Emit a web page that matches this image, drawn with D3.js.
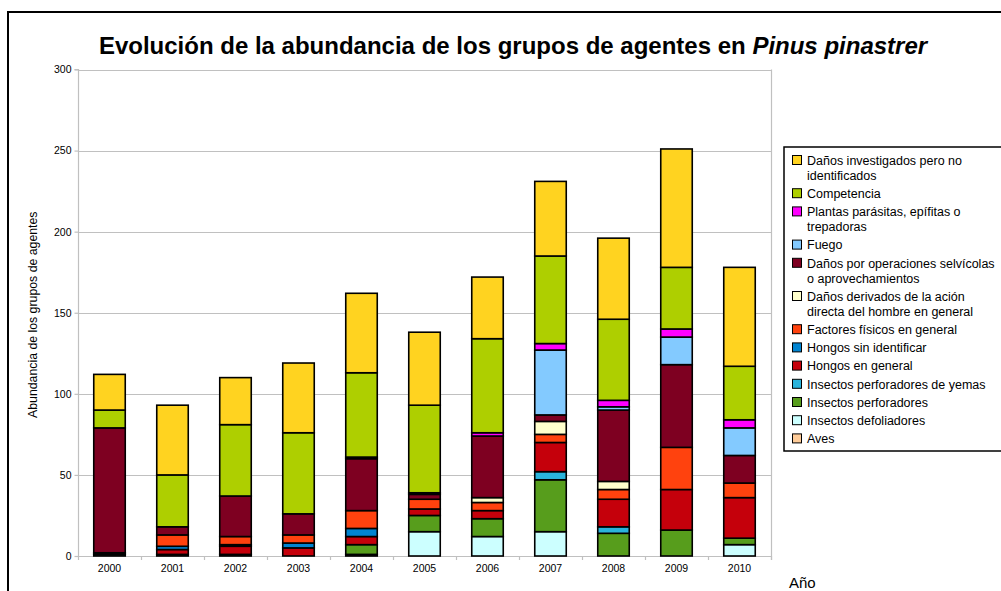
<!DOCTYPE html>
<html lang="es">
<head>
<meta charset="UTF-8">
<title>Evolución de la abundancia</title>
<style>
  body { margin: 0; background: #fff; overflow: hidden; }
  svg { display: block; font-family: "Liberation Sans", Arial, sans-serif; }
</style>
</head>
<body>
<svg width="1001" height="591"></svg>
<script src="https://cdn.jsdelivr.net/npm/d3@7"></script>
<script>
// years on the x axis
const years = ["2000", "2001", "2002", "2003", "2004", "2005", "2006", "2007", "2008", "2009", "2010"];

// series, bottom of the stack first
const seriesNames = [
  "Aves",
  "Insectos defoliadores",
  "Insectos perforadores",
  "Insectos perforadores de yemas",
  "Hongos en general",
  "Hongos sin identificar",
  "Factores físicos en general",
  "Daños derivados de la ación directa del hombre en general",
  "Daños por operaciones selvícolas o aprovechamientos",
  "Fuego",
  "Plantas parásitas, epífitas o trepadoras",
  "Competencia",
  "Daños investigados pero no identificados"
];

const aves          = [1, 1, 1, 0, 1, 0, 0, 0, 0, 0, 0];
const defoliadores  = [0, 0, 0, 0, 0, 15, 12, 15, 0, 0, 7];
const perforadores  = [0, 0, 0, 0, 6, 10, 11, 32, 14, 16, 4];
const yemas         = [0, 0, 0, 0, 0, 0, 0, 5, 4, 0, 0];
const hongos        = [1, 3, 5, 5, 5, 4, 5, 18, 17, 25, 25];
const hongosSinId   = [0, 2, 1, 3, 5, 0, 0, 0, 0, 0, 0];
const fisicos       = [0, 7, 5, 5, 11, 6, 5, 5, 6, 26, 9];
const hombre        = [0, 0, 0, 0, 0, 0, 3, 8, 5, 0, 0];
const selvicolas    = [77, 5, 25, 13, 32, 3, 38, 4, 44, 51, 17];
const fuego         = [0, 0, 0, 0, 1, 1, 0, 40, 2, 17, 17];
const plantas       = [0, 0, 0, 0, 0, 0, 2, 4, 4, 5, 5];
const competencia   = [11, 32, 44, 50, 52, 54, 58, 54, 50, 38, 33];
const noIdentif     = [22, 43, 29, 43, 49, 45, 38, 46, 50, 73, 61];

const seriesValues = [aves, defoliadores, perforadores, yemas, hongos, hongosSinId,
  fisicos, hombre, selvicolas, fuego, plantas, competencia, noIdentif];

const colors = ["#ffcc99", "#ccffff", "#579d1c", "#2ab4dc", "#c5000b", "#0084d1",
  "#ff420e", "#ffffcc", "#7e0021", "#83caff", "#ff00ff", "#aecf00", "#ffd320"];

// legend text, top item first, already wrapped like the original
const legendLines = [
  ["Daños investigados pero no", "identificados"],
  ["Competencia"],
  ["Plantas parásitas, epífitas o", "trepadoras"],
  ["Fuego"],
  ["Daños por operaciones selvícolas", "o aprovechamientos"],
  ["Daños derivados de la ación", "directa del hombre en general"],
  ["Factores físicos en general"],
  ["Hongos sin identificar"],
  ["Hongos en general"],
  ["Insectos perforadores de yemas"],
  ["Insectos perforadores"],
  ["Insectos defoliadores"],
  ["Aves"]
];

const yTicks = [0, 50, 100, 150, 200, 250, 300];

const svg = d3.select("svg");
const margin = { left: 78, top: 69.5, right: 771, bottom: 556 };

// outer frame
svg.append("rect")
  .attr("x", 8).attr("y", 12)
  .attr("width", 1010).attr("height", 600)
  .attr("fill", "none").attr("stroke", "#000").attr("stroke-width", 2);

const table = years.map((y, i) => {
  const row = { year: y };
  seriesNames.forEach((n, k) => { row[n] = seriesValues[k][i]; });
  return row;
});

const stack = d3.stack().keys(seriesNames)(table);

const x = d3.scaleBand().domain(years).range([margin.left, margin.right]).paddingInner(0.5).paddingOuter(0.25);
const y = d3.scaleLinear().domain([0, 300]).range([margin.bottom, margin.top]);

// grid
svg.append("g").selectAll("line").data(yTicks).join("line")
  .attr("x1", margin.left).attr("x2", margin.right)
  .attr("y1", d => Math.round(y(d)) + 0.5).attr("y2", d => Math.round(y(d)) + 0.5)
  .attr("stroke", "#c0c0c0").attr("stroke-width", 1.2);
svg.append("line")
  .attr("x1", margin.right + 0.5).attr("x2", margin.right + 0.5)
  .attr("y1", margin.top).attr("y2", margin.bottom + 4)
  .attr("stroke", "#c0c0c0").attr("stroke-width", 1.2);

// y axis
const yAxis = svg.append("g")
  .attr("transform", `translate(${margin.left + 0.5},0)`)
  .call(d3.axisLeft(y).tickValues(yTicks).tickSize(4).tickPadding(3));
yAxis.select(".domain").attr("stroke", "#c0c0c0").attr("stroke-width", 1.2).attr("d", `M-4,${y(300)}H0V${y(0)}`);
yAxis.selectAll(".tick line").attr("stroke", "#c0c0c0").attr("stroke-width", 1.2);
yAxis.selectAll("text").attr("font-size", 10.5).attr("fill", "#000")
  .attr("font-family", "Liberation Sans, Arial, sans-serif");

// x axis: ticks at band boundaries
const step = x.step();
const bounds = years.map((d, i) => margin.left + i * step).concat([margin.right]);
svg.append("g").selectAll("line").data(bounds).join("line")
  .attr("x1", d => Math.round(d) + 0.5).attr("x2", d => Math.round(d) + 0.5)
  .attr("y1", margin.bottom).attr("y2", margin.bottom + 4)
  .attr("stroke", "#c0c0c0").attr("stroke-width", 1.2);
const xAxis = svg.append("g")
  .attr("transform", `translate(0,${margin.bottom})`)
  .call(d3.axisBottom(x).tickSize(0).tickPadding(9));
xAxis.select(".domain").remove();
xAxis.selectAll("text").attr("font-size", 10.5).attr("fill", "#000")
  .attr("font-family", "Liberation Sans, Arial, sans-serif");

// bars
svg.append("g").selectAll("g").data(stack).join("g")
  .attr("fill", (d, i) => colors[i])
  .selectAll("rect").data(d => d.filter(p => p[1] > p[0])).join("rect")
  .attr("x", d => x(d.data.year))
  .attr("width", x.bandwidth())
  .attr("y", d => y(d[1]))
  .attr("height", d => y(d[0]) - y(d[1]))
  .attr("stroke", "#000").attr("stroke-width", 1.6);

// title
const title = svg.append("text")
  .attr("x", 513).attr("y", 54)
  .attr("text-anchor", "middle")
  .attr("font-size", 24).attr("font-weight", "bold");
title.append("tspan").text("Evolución de la abundancia de los grupos de agentes en ");
title.append("tspan").attr("font-style", "italic").text("Pinus pinastrer");

// axis titles
svg.append("text")
  .attr("transform", `translate(37,${(margin.top + margin.bottom) / 2 + 2}) rotate(-90)`)
  .attr("text-anchor", "middle")
  .attr("font-size", 12.3)
  .text("Abundancia de los grupos de agentes");
svg.append("text")
  .attr("x", 789).attr("y", 588)
  .attr("font-size", 15)
  .text("Año");

// legend
const legend = svg.append("g");
legend.append("rect")
  .attr("x", 784).attr("y", 147)
  .attr("width", 300).attr("height", 304)
  .attr("fill", "#fff").attr("stroke", "#000").attr("stroke-width", 1.5);

let ly = 160.5;
legendLines.forEach((lines, i) => {
  const k = seriesNames.length - 1 - i;
  legend.append("rect")
    .attr("x", 792.5).attr("y", ly - 5)
    .attr("width", 9).attr("height", 9)
    .attr("fill", colors[k]).attr("stroke", "#000").attr("stroke-width", 1);
  lines.forEach((t, j) => {
    legend.append("text")
      .attr("x", 807).attr("y", ly + j * 15)
      .attr("dy", "0.35em")
      .attr("font-size", 12.5)
      .text(t);
  });
  ly += lines.length * 15 + 3.2;
});
</script>
</body>
</html>
